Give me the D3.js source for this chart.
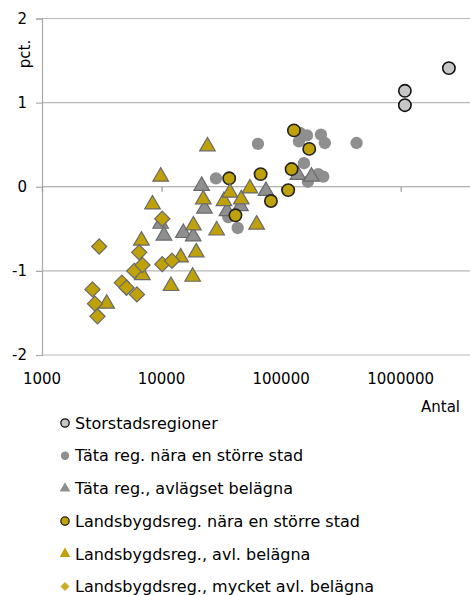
<!DOCTYPE html>
<html>
<head>
<meta charset="utf-8">
<script src="https://cdn.jsdelivr.net/npm/d3@7"></script>
<style>
  body { margin: 0; background: #fff; }
  svg text { font-family: "DejaVu Sans", Verdana, sans-serif; fill: #000; }
</style>
</head>
<body>
<div id="chart"></div>
<script>
// series data: [antal, pct.]
const storstad = [[2530000, 1.41], [1084000, 1.14], [1084000, 0.97]];
const tataNara = [
  [28500, 0.10], [43300, -0.49], [36100, -0.36], [64000, 0.51], [143600, 0.64],
  [164400, 0.61], [140900, 0.54], [215300, 0.62], [232300, 0.52], [427700, 0.52],
  [155200, 0.28], [167500, 0.06], [204200, 0.15], [224900, 0.12]
];
const tataAvl = [
  [9830, -0.44], [10470, -0.58], [15200, -0.55], [18400, -0.59], [21650, 0.01],
  [22850, -0.26], [35230, -0.29], [45700, -0.23], [74650, -0.05], [138100, 0.14],
  [179200, 0.12]
];
const landNara = [
  [36800, 0.10], [41500, -0.34], [67400, 0.15], [82200, -0.17], [114600, -0.04],
  [122400, 0.21], [128000, 0.67], [171800, 0.45]
];
const landAvl = [
  [9830, 0.12], [8400, -0.21], [6790, -0.64], [6920, -1.05], [3475, -1.39],
  [11990, -1.18], [14450, -0.84], [18480, -0.46], [19500, -0.78], [18200, -1.07],
  [22330, -0.15], [24200, 0.48], [28900, -0.52], [33260, -0.17], [37320, -0.07],
  [46400, -0.15], [54850, -0.02], [62400, -0.45]
];
const landMycket = [
  [3010, -0.71], [2645, -1.22], [2775, -1.39], [2912, -1.54], [4656, -1.14],
  [5090, -1.20], [6225, -1.28], [5912, -1.00], [6500, -0.78], [6920, -0.93],
  [10140, -0.38], [10140, -0.92], [12220, -0.88]
];

const seriesNames = [
  "Storstadsregioner",
  "Täta reg. nära en större stad",
  "Täta reg., avlägset belägna",
  "Landsbygdsreg. nära en större stad",
  "Landsbygdsreg., avl. belägna",
  "Landsbygdsreg., mycket avl. belägna"
];
const xTicks = [1000, 10000, 100000, 1000000];
const yTicks = [-2, -1, 0, 1, 2];

const gold = "#bfa10a";
const series = [
  { name: seriesNames[0], data: storstad, shape: "circle", fill: "#c6c6c6", stroke: "#111", sw: 1.6 },
  { name: seriesNames[1], data: tataNara, shape: "circle", fill: "#8f8f8f", stroke: "none", sw: 0 },
  { name: seriesNames[2], data: tataAvl, shape: "triangle", fill: "#8f8f8f", stroke: "#6a6a6a", sw: 1.2 },
  { name: seriesNames[3], data: landNara, shape: "circle", fill: gold, stroke: "#222", sw: 1.6 },
  { name: seriesNames[4], data: landAvl, shape: "triangle", fill: gold, stroke: "#6a6a6a", sw: 1.2 },
  { name: seriesNames[5], data: landMycket, shape: "diamond", fill: gold, stroke: "#6a6a6a", sw: 1.2 }
];

const W = 470, H = 595;
const margin = { top: 18.5, right: 0, bottom: 240, left: 42 };
const plotW = W - margin.left - margin.right;
const plotH = H - margin.top - margin.bottom;

const svg = d3.select("#chart").append("svg")
  .attr("width", W).attr("height", H);

const g = svg.append("g").attr("transform", `translate(${margin.left},${margin.top})`);

const x = d3.scaleLog().domain([1000, 3.8e6]).range([0, plotW]);
const y = d3.scaleLinear().domain([-2, 2]).range([plotH, 0]);

// gridlines
g.selectAll(".grid").data(yTicks).join("line")
  .attr("x1", 0).attr("x2", plotW)
  .attr("y1", d => y(d)).attr("y2", d => y(d))
  .attr("stroke", d => d === 0 ? "#9a9a9a" : "#b8b8b8")
  .attr("stroke-width", 1.2);

// y axis
const yAxis = g.append("g").call(d3.axisLeft(y).tickValues(yTicks).tickSize(6).tickPadding(9).tickFormat(d => String(d)));
yAxis.select(".domain").attr("stroke", "#a8a8a8").attr("stroke-width", 1.2);
yAxis.selectAll(".tick line").attr("stroke", "#a8a8a8").attr("stroke-width", 1.2);
yAxis.selectAll(".tick text").style("font-size", "15px").attr("fill", "#000");

// x axis: crosses at 0, labels at the bottom
const xAxis = g.append("g").attr("transform", `translate(0,${y(0)})`)
  .call(d3.axisBottom(x).tickValues(xTicks).tickSize(5).tickFormat(""));
xAxis.select(".domain").remove();
xAxis.selectAll(".tick line").attr("stroke", "#9a9a9a").attr("stroke-width", 1.2);

g.selectAll(".xlab").data(xTicks).join("text")
  .attr("x", d => x(d)).attr("y", plotH + 29)
  .attr("text-anchor", "middle")
  .style("font-size", "15px")
  .text(d => d);

g.append("text")
  .attr("x", W - margin.left - 10).attr("y", plotH + 57)
  .attr("text-anchor", "end")
  .style("font-size", "15px")
  .text("Antal");

svg.append("text")
  .attr("transform", `translate(30,54) rotate(-90)`)
  .attr("text-anchor", "middle")
  .style("font-size", "15px")
  .text("pct.");

function symbolPath(shape, size) {
  if (shape === "circle") return d3.symbol(d3.symbolCircle, size)();
  if (shape === "triangle") return d3.symbol(d3.symbolTriangle, size)();
  // square turned 45 degrees
  const h = Math.sqrt(size) / Math.SQRT2;
  return `M0,${-h}L${h},0L0,${h}L${-h},0Z`;
}

const markerSize = { circle: 120, triangle: 105, diamond: 115 };

series.forEach(s => {
  g.append("g").selectAll("path").data(s.data).join("path")
    .attr("d", symbolPath(s.shape, markerSize[s.shape]))
    .attr("transform", d => `translate(${x(d[0])},${y(d[1])})`)
    .attr("fill", s.fill)
    .attr("stroke", s.stroke)
    .attr("stroke-width", s.sw);
});

// legend
const legend = svg.append("g").attr("transform", "translate(65,423)");
const legendSize = { circle: 55, triangle: 50, diamond: 40 };
series.forEach((s, i) => {
  const row = legend.append("g").attr("transform", `translate(0,${i * 32.7})`);
  row.append("path")
    .attr("d", symbolPath(s.shape, legendSize[s.shape]))
    .attr("fill", s.shape === "diamond" ? "#c9ad2a" : s.fill)
    .attr("stroke", s.shape === "circle" ? s.stroke : "none")
    .attr("stroke-width", s.sw ? 1.3 : 0);
  row.append("text")
    .attr("x", 10).attr("dy", "0.36em")
    .style("font-size", "16px")
    .text(s.name);
});
</script>
</body>
</html>
